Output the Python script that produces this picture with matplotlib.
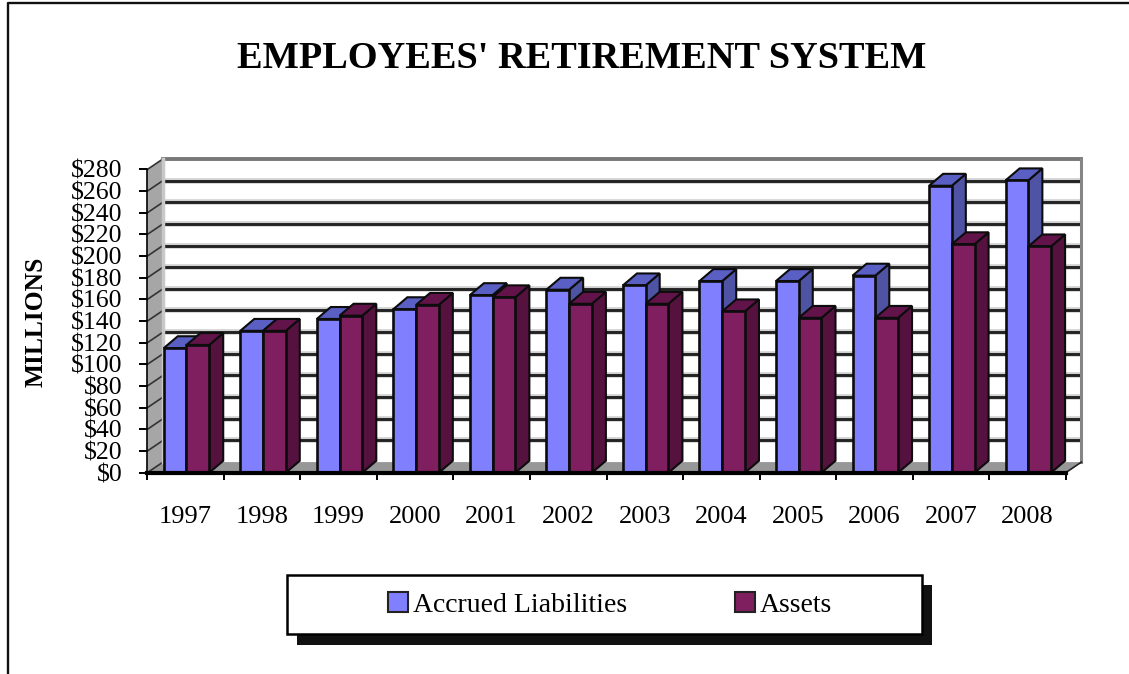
import matplotlib
matplotlib.use('Agg')
import matplotlib.pyplot as plt
from matplotlib.lines import Line2D
from matplotlib.patches import Polygon, Rectangle, Patch

plt.rcParams['font.family'] = ['Liberation Serif', 'DejaVu Serif']

years = ['1997', '1998', '1999', '2000', '2001', '2002', '2003', '2004', '2005', '2006', '2007', '2008']
liabilities = [115, 131, 142, 151, 164, 169, 173, 177, 177, 182, 265, 270]
assets = [118, 131, 145, 155, 162, 156, 156, 149, 143, 143, 211, 209]
y_ticks = list(range(0, 281, 20))

W, H = 1129, 674


def fx(px):
    return px / W


def fy(py):
    return 1 - py / H


fig = plt.figure(figsize=(W / 100, H / 100), dpi=100, facecolor='white')

# front plane of the fake 3D box
left, right, top, bottom = 147.3, 1065.7, 169.5, 472.7
ax = fig.add_axes([fx(left), fy(bottom), fx(right - left), (bottom - top) / H])
ax.set_xlim(0, 12)
ax.set_ylim(0, 280)
ax.patch.set_alpha(0)

wall_dx, wall_dy = 0.205, 9.8  # depth of the box
bar_dx, bar_dy = 0.183, 11.0   # depth of a bar
bar_w = 0.297

# walls and floor
ax.add_patch(Polygon([(0, 0), (wall_dx, wall_dy), (wall_dx, 280 + wall_dy), (0, 280)],
                     fc='#a6a6a6', ec='none', clip_on=False, zorder=1))
ax.add_patch(Polygon([(0, 0), (wall_dx, wall_dy), (12 + wall_dx, wall_dy), (12, 0)],
                     fc='#979797', ec='none', clip_on=False, zorder=1))

# gridlines on back wall and wall side
for v in y_ticks:
    if 0 < v < 280:
        ax.plot([wall_dx, 12 + wall_dx], [v + wall_dy] * 2, color='#cfcfcf', lw=4,
                clip_on=False, zorder=1.5, solid_capstyle='butt')
        ax.plot([wall_dx, 12 + wall_dx], [v + wall_dy] * 2, color='#222222', lw=2.1,
                clip_on=False, zorder=2, solid_capstyle='butt')
    ax.plot([0, wall_dx], [v, v + wall_dy], color='#333333', lw=1.2, clip_on=False, zorder=2)
ax.plot([wall_dx, 12 + wall_dx], [280 + wall_dy] * 2, color='#777777', lw=2.8, clip_on=False, zorder=2)
ax.plot([wall_dx, wall_dx], [wall_dy, 280 + wall_dy], color='#c8c8c8', lw=2.5, clip_on=False, zorder=2)
ax.plot([12 + wall_dx] * 2, [wall_dy, 280 + wall_dy], color='#858585', lw=2.2, clip_on=False, zorder=2)
ax.plot([12, 12 + wall_dx], [0, wall_dy], color='#222222', lw=1.2, clip_on=False, zorder=2)


def draw_bar(x0, val, front, roof, side, z):
    x1 = x0 + bar_w
    ax.add_patch(Polygon([(x1, 0), (x1 + bar_dx, bar_dy), (x1 + bar_dx, val + bar_dy), (x1, val)],
                         fc=side, ec='#0c0c0c', lw=1.5, clip_on=False, zorder=z))
    ax.add_patch(Polygon([(x0, val), (x0 + bar_dx, val + bar_dy), (x1 + bar_dx, val + bar_dy), (x1, val)],
                         fc=roof, ec='#0c0c0c', lw=1.5, clip_on=False, zorder=z))
    ax.add_patch(Rectangle((x0, 0), bar_w, val, fc=front, ec='#0c0c0c', lw=1.9,
                           clip_on=False, zorder=z))


for i in range(len(years)):
    draw_bar(i + 0.215, liabilities[i], '#8080ff', '#5a5fc4', '#4f53a3', 3 + i * 0.01)
    draw_bar(i + 0.512, assets[i], '#7f1f5f', '#62134a', '#55123f', 3 + i * 0.01 + 0.005)

# axes
for name in ['top', 'right']:
    ax.spines[name].set_visible(False)
ax.spines['left'].set_linewidth(1.2)
ax.spines['bottom'].set_linewidth(3)
ax.spines['bottom'].set_zorder(6)
ax.set_yticks(y_ticks)
ax.set_yticklabels([f'${v}' for v in y_ticks], fontsize=18.5)
ax.tick_params(axis='y', length=6, width=1.4, pad=12)
ax.set_xticks(range(13))
ax.set_xticklabels([])
ax.tick_params(axis='x', which='major', length=5, width=1.4)
ax.set_xticks([i + 0.5 for i in range(12)], minor=True)
ax.set_xticklabels(years, minor=True, fontsize=19)
ax.tick_params(axis='x', which='minor', length=0, pad=24)

fig.text(fx(582), fy(58.5), "EMPLOYEES' RETIREMENT SYSTEM", ha='center', va='center',
         fontsize=27.6, fontweight='bold')
fig.text(fx(36), fy(322), 'MILLIONS', rotation=90, ha='center', va='center',
         fontsize=18.4, fontweight='bold')

# legend box with hard shadow
fig.add_artist(Rectangle((fx(297), fy(645)), (932 - 297) / W, (645 - 585) / H, transform=fig.transFigure,
                         fc='#111111', ec='none'))
fig.add_artist(Rectangle((fx(287), fy(634)), (922 - 287) / W, (634 - 575) / H, transform=fig.transFigure,
                         fc='white', ec='black', lw=1.8))
handles = [Patch(fc='#8080ff', ec='#222222', lw=1.5, label='Accrued Liabilities'),
           Patch(fc='#7f1f5f', ec='#222222', lw=1.5, label='Assets')]
fig.legend(handles=handles, loc='center', bbox_to_anchor=(fx(610), fy(605)), ncol=2, frameon=False,
           fontsize=20, handlelength=0.72, handleheight=0.72, handletextpad=0.15, columnspacing=3.9)

# page frame: left and top edges only
fig.add_artist(Line2D([fx(7.5), fx(7.5), 1], [0, fy(3), fy(3)],
                      transform=fig.transFigure, color='#111111', lw=1.7))

fig.savefig('out.png', dpi=100)
